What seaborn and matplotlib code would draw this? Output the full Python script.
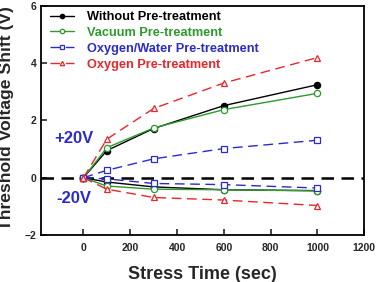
import matplotlib
matplotlib.use("Agg")
import matplotlib.pyplot as plt
import seaborn as sns
import pandas as pd

sns.set_theme(style="white")
plt.rcParams['font.family'] = ['Liberation Sans', 'DejaVu Sans']
plt.rcParams['font.weight'] = 'bold'

time = [0, 100, 300, 600, 1000]
series_names = ["Without Pre-treatment", "Vacuum Pre-treatment",
                "Oxygen/Water Pre-treatment", "Oxygen Pre-treatment"]
without_pos = [0, 0.95, 1.72, 2.52, 3.25]
without_neg = [0, -0.15, -0.32, -0.42, -0.45]
vacuum_pos = [0, 1.05, 1.74, 2.38, 2.95]
vacuum_neg = [0, -0.29, -0.40, -0.42, -0.46]
oxwater_pos = [0, 0.26, 0.66, 1.02, 1.31]
oxwater_neg = [0, -0.04, -0.20, -0.24, -0.36]
oxygen_pos = [0, 1.35, 2.42, 3.31, 4.20]
oxygen_neg = [0, -0.40, -0.69, -0.78, -0.97]

colors = ["black", "#2e9a2e", "#2b2bcc", "#e8262b"]
markers = ["o", "o", "s", "^"]
filled = [True, False, False, False]
styles = ["-", "-", (0, (7, 4)), (0, (7, 4))]

pos = [without_pos, vacuum_pos, oxwater_pos, oxygen_pos]
neg = [without_neg, vacuum_neg, oxwater_neg, oxygen_neg]

fig = plt.figure(figsize=(3.77, 2.82), dpi=100)
ax = fig.add_axes([0.1096, 0.1667, 0.8567, 0.812])

ax.axhline(0, color="black", lw=1.8, ls=(0, (5, 3)), zorder=1)

for i in range(4):
    for data, lab in ((pos[i], series_names[i]), (neg[i], None)):
        df = pd.DataFrame({"t": time, "v": data})
        sns.lineplot(data=df, x="t", y="v", ax=ax, color=colors[i],
                     marker=markers[i], markersize=4.5, lw=1.0,
                     linestyle=styles[i],
                     markerfacecolor=colors[i] if filled[i] else "white",
                     markeredgecolor=colors[i], markeredgewidth=0.9,
                     label=lab, sort=False, zorder=3)

ax.set_xlim(-180, 1200)
ax.set_ylim(-2, 6)
ax.set_xticks([0, 200, 400, 600, 800, 1000, 1200])
ax.set_yticks([-2, 0, 2, 4, 6])
ax.tick_params(direction="in", length=4, width=1.2, labelsize=7.5,
               bottom=True, left=True, top=False, right=False)
ax.tick_params(axis="x", pad=6)
for lbl in ax.get_xticklabels() + ax.get_yticklabels():
    lbl.set_fontweight("bold")
for sp in ax.spines.values():
    sp.set_linewidth(1.3)
    sp.set_color("black")

ax.set_xlabel("Stress Time (sec)", fontsize=13, fontweight="bold", labelpad=9)
ax.set_ylabel("Threshold Voltage Shift (V)", fontsize=12.6, fontweight="bold")
ax.yaxis.set_label_coords(-0.085, 0.51)

ax.text(-40, 1.38, "+20V", color="#2b2bcc", fontsize=12, fontweight="bold",
        ha="center", va="center")
ax.text(-40, -0.72, "-20V", color="#2b2bcc", fontsize=12, fontweight="bold",
        ha="center", va="center")

leg = ax.legend(loc="upper left", bbox_to_anchor=(0.012, 1.0), frameon=False,
                handlelength=1.85, handletextpad=1.0, labelspacing=0.3,
                borderaxespad=0.1, borderpad=0.3, markerscale=0.7,
                prop={"weight": "bold", "size": 9.2})
for txt, c in zip(leg.get_texts(), colors):
    txt.set_color(c)

fig.savefig("out.png", dpi=100)
